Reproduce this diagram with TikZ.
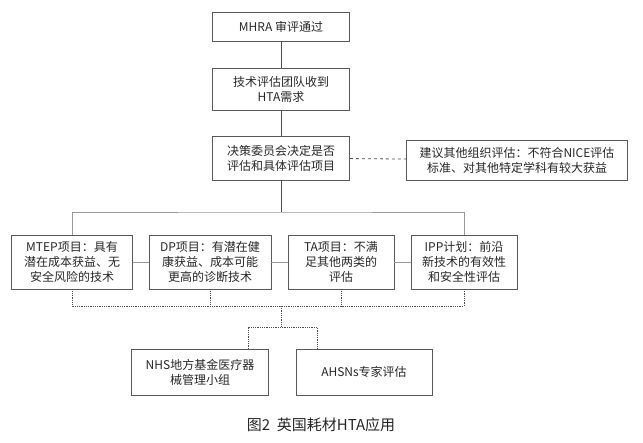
\documentclass[tikz,border=0pt]{standalone}
\usepackage{fontspec}
\setmainfont{Noto Sans CJK SC}
\begin{document}
\begin{tikzpicture}[x=1pt,y=-1pt,
  box/.style={draw=black!65,line width=0.9pt,inner sep=2pt,align=center,font=\fontsize{12}{15}\selectfont,text=black!85},
  ln/.style={draw=black!70,line width=0.8pt},
  gl/.style={draw=black!40,line width=0.8pt},
  dl/.style={draw=black!70,line width=0.8pt,densely dotted}]
\useasboundingbox (0,0) rectangle (643,443);
\node[box,minimum width=137pt,minimum height=29pt] (a) at (281,27) {MHRA 审评通过};
\node[box,minimum width=137pt,minimum height=42pt] (b) at (281,89) {技术评估团队收到\\HTA需求};
\node[box,minimum width=137pt,minimum height=44pt] (c) at (281,158) {决策委员会决定是否\\评估和具体评估项目};
\node[box,minimum width=221pt,minimum height=40pt] (d) at (517,160) {建议其他组织评估：不符合NICE评估\\标准、对其他特定学科有较大获益};
\node[box,minimum width=121pt,minimum height=54pt] (m1) at (72,262) {MTEP项目：具有\\潜在成本获益、无\\安全风险的技术};
\node[box,minimum width=122pt,minimum height=54pt] (m2) at (210,262) {DP项目：有潜在健\\康获益、成本可能\\更高的诊断技术};
\node[box,minimum width=106pt,minimum height=54pt] (m3) at (341,262) {TA项目：不满\\足其他两类的\\评估};
\node[box,minimum width=106pt,minimum height=54pt] (m4) at (464,262) {IPP计划：前沿\\新技术的有效性\\和安全性评估};
\node[box,minimum width=137pt,minimum height=46pt] (n1) at (200,372) {NHS地方基金医疗器\\械管理小组};
\node[box,minimum width=136pt,minimum height=46pt] (n2) at (364,372) {AHSNs专家评估};
\node[font=\fontsize{15}{18}\selectfont,text=black!85] (cap) at (321,425) {图2\ \ 英国耗材HTA应用};
\coordinate (t) at (281,212);
\coordinate (dj) at (281,306);
\coordinate (sp) at (281,327);
\draw[ln] (a) -- (b);
\draw[ln] (b) -- (c);
\draw[ln,dashed] (c) -- (d);
\draw[ln] (c) -- (t);
\draw[gl] (m1.north) |- (t) -| (m4.north);
\draw[gl] (m1) -- (m2); \draw[gl] (m2) -- (m3); \draw[gl] (m3) -- (m4);
\draw[dl] (m1.south) |- (dj) -| (m4.south);
\draw[dl] (m2.south) -- (m2.south |- dj);
\draw[dl] (m3.south) -- (m3.south |- dj);
\draw[dl] (dj) -- (sp);
\draw[dl] (248,349) |- (sp) -| (317,349);
\end{tikzpicture}
\end{document}
